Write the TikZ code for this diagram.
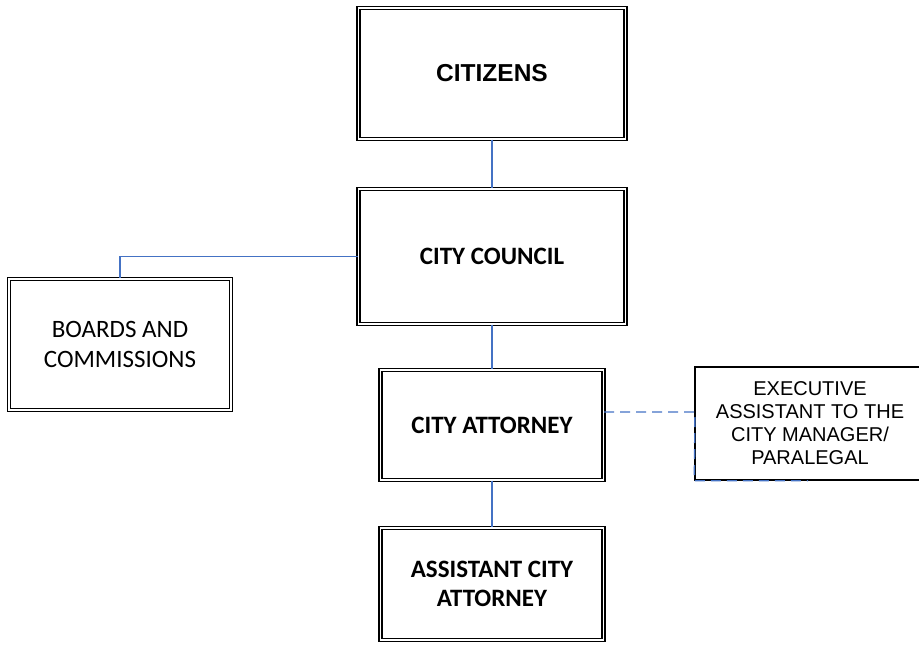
\documentclass[tikz,border=0pt]{standalone}
\usepackage{fontspec}
\setmainfont{Carlito}
\newfontfamily\arialf{Liberation Sans}
\usetikzlibrary{calc}
\definecolor{linkblue}{HTML}{4472C4}
\tikzset{
  dbox/.style={draw=black, double=white, line width=1.3pt, double distance=1.8pt,
    inner sep=0pt, align=center, fill=white},
  sbox/.style={draw=black, line width=1.4pt, inner sep=0pt, align=center, fill=white},
  link/.style={draw=linkblue, line width=1.4pt},
  dlink/.style={draw=linkblue, line width=1.4pt, dash pattern=on 10pt off 6pt},
}
\begin{document}
\begin{tikzpicture}[x=1pt,y=1pt]
\useasboundingbox (0,0) rectangle (919,-646);
\node[dbox, minimum width=267pt, minimum height=131pt, font=\arialf\bfseries\fontsize{24.5}{29}\selectfont]
  (citizens) at (492,-73.5) {CITIZENS};
\node[dbox, minimum width=267pt, minimum height=135pt, font=\bfseries\fontsize{25}{29}\selectfont]
  (council) at (492,-256.5) {CITY COUNCIL};
\node[dbox, minimum width=222pt, minimum height=131pt, font=\fontsize{25}{29.5}\selectfont]
  (boards) at (120,-344.5) {BOARDS AND\\COMMISSIONS};
\node[dbox, minimum width=223pt, minimum height=110pt, font=\bfseries\fontsize{25}{29}\selectfont]
  (attorney) at (492,-425) {CITY ATTORNEY};
\node[dbox, minimum width=223pt, minimum height=112pt, font=\bfseries\fontsize{25}{28.5}\selectfont]
  (assistant) at (492,-584) {ASSISTANT CITY\\ATTORNEY};
\node[sbox, minimum width=230pt, minimum height=113pt, font=\arialf\fontsize{20}{23}\selectfont]
  (exec) at (810,-423.5) {EXECUTIVE\\ASSISTANT TO THE\\CITY MANAGER/\\PARALEGAL\hspace*{0pt}};
\coordinate (dj) at (695,-412);
\coordinate (dend) at (808,-480);
\draw[link] (citizens.south) -- (council.north);
\draw[link] (council.west) -| (boards.north);
\draw[link] (council.south) -- (attorney.north);
\draw[link] (attorney.south) -- (assistant.north);
\draw[dlink] (attorney.east |- dj) -- (dj) -- (exec.south west) -- (exec.south west -| dend);
\end{tikzpicture}
\end{document}
